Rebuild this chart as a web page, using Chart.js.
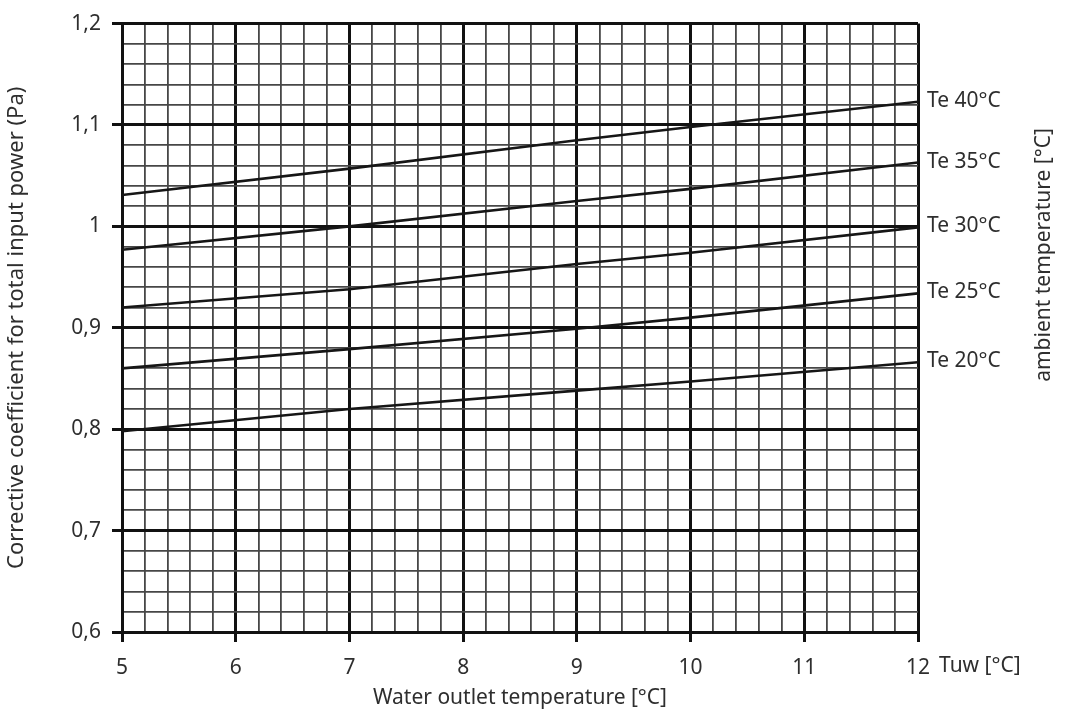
<!DOCTYPE html>
<html>
<head>
<meta charset="utf-8">
<script src="https://cdn.jsdelivr.net/npm/chart.js@4/dist/chart.umd.min.js"></script>
<style>
  html, body { margin: 0; padding: 0; background: #fff; }
  #wrap { width: 1067px; height: 715px; }
</style>
</head>
<body>
<div id="wrap"><canvas id="chart" width="1067" height="715"></canvas></div>
<script>
// water outlet temperature readings (Tuw, °C)
const tuw = [5, 7, 9, 10, 12];

// corrective coefficient Pa per ambient temperature curve
const te40 = [1.031, 1.057, 1.085, 1.098, 1.123];
const te35 = [0.977, 1.000, 1.025, 1.037, 1.063];
const te30 = [0.920, 0.938, 0.963, 0.974, 0.999];
const te25 = [0.860, 0.879, 0.899, 0.910, 0.934];
const te20 = [0.798, 0.820, 0.838, 0.847, 0.866];

const curveLabels = ['Te 40°C', 'Te 35°C', 'Te 30°C', 'Te 25°C', 'Te 20°C'];
const curves = [te40, te35, te30, te25, te20];

const FONT = '"Noto Sans", "DejaVu Sans", sans-serif';
const TEXT = '#2e2e2e';

const isMajor = (v, step) => Math.abs(v / step - Math.round(v / step)) < 1e-6;

const toPoints = (ys) => tuw.map((x, i) => ({ x: x, y: ys[i] }));

// labels at the curve ends + the extra axis captions
const extraText = {
  id: 'extraText',
  afterDraw(chart) {
    const { ctx, chartArea, scales } = chart;
    ctx.save();
    ctx.fillStyle = TEXT;
    ctx.font = '21px ' + FONT;
    ctx.textBaseline = 'middle';
    ctx.textAlign = 'left';
    chart.data.datasets.forEach((ds) => {
      const last = ds.data[ds.data.length - 1];
      ctx.fillText(ds.label, chartArea.right + 9, scales.y.getPixelForValue(last.y) - 1);
    });
    ctx.fillText('Tuw [°C]', chartArea.right + 21, chartArea.bottom + 34);

    ctx.translate(1044, 255);
    ctx.rotate(-Math.PI / 2);
    ctx.textAlign = 'center';
    ctx.fillText('ambient temperature [°C]', 0, 0);
    ctx.restore();
  }
};

new Chart(document.getElementById('chart'), {
  type: 'scatter',
  data: {
    datasets: curves.map((ys, i) => ({
      label: curveLabels[i],
      data: toPoints(ys),
      showLine: true,
      borderColor: '#161616',
      borderWidth: 2.6,
      pointRadius: 0,
      tension: 0
    }))
  },
  options: {
    responsive: false,
    animation: false,
    layout: { padding: { top: 22, right: 149, left: 0, bottom: 0 } },
    plugins: {
      legend: { display: false },
      tooltip: { enabled: false }
    },
    scales: {
      x: {
        type: 'linear',
        min: 5,
        max: 12,
        afterFit: (scale) => { scale.height = 83; },
        ticks: {
          stepSize: 0.2,
          autoSkip: false,
          maxRotation: 0,
          padding: 13,
          color: TEXT,
          font: { family: FONT, size: 21 },
          callback: (v) => isMajor(v, 1) ? String(Math.round(v)) : ''
        },
        grid: {
          color: (c) => c.tick && isMajor(c.tick.value, 1) ? '#111' : '#474747',
          lineWidth: (c) => c.tick && isMajor(c.tick.value, 1) ? 3 : 1.8,
          tickColor: (c) => c.tick && isMajor(c.tick.value, 1) ? '#111' : 'rgba(0,0,0,0)',
          tickWidth: 3,
          tickLength: 10
        },
        border: { color: '#111', width: 3 },
        title: {
          display: true,
          text: 'Water outlet temperature [°C]',
          color: TEXT,
          font: { family: FONT, size: 21 },
          padding: { top: 0, bottom: 4 }
        }
      },
      y: {
        type: 'linear',
        min: 0.6,
        max: 1.2,
        afterFit: (scale) => { scale.width = 122; },
        ticks: {
          stepSize: 0.02,
          autoSkip: false,
          padding: 11,
          color: TEXT,
          font: { family: FONT, size: 21 },
          callback: (v) => isMajor(v, 0.1) ? String(Math.round(v * 10) / 10).replace('.', ',') : ''
        },
        grid: {
          color: (c) => c.tick && isMajor(c.tick.value, 0.1) ? '#111' : '#474747',
          lineWidth: (c) => c.tick && isMajor(c.tick.value, 0.1) ? 3 : 1.8,
          tickColor: (c) => c.tick && isMajor(c.tick.value, 0.1) ? '#111' : 'rgba(0,0,0,0)',
          tickWidth: 3,
          tickLength: 10
        },
        border: { color: '#111', width: 3 },
        title: {
          display: true,
          text: 'Corrective coefficient for total input power (Pa)',
          color: TEXT,
          font: { family: FONT, size: 22 },
          padding: { top: 4, bottom: 0 }
        }
      }
    }
  },
  plugins: [extraText]
});
</script>
</body>
</html>
